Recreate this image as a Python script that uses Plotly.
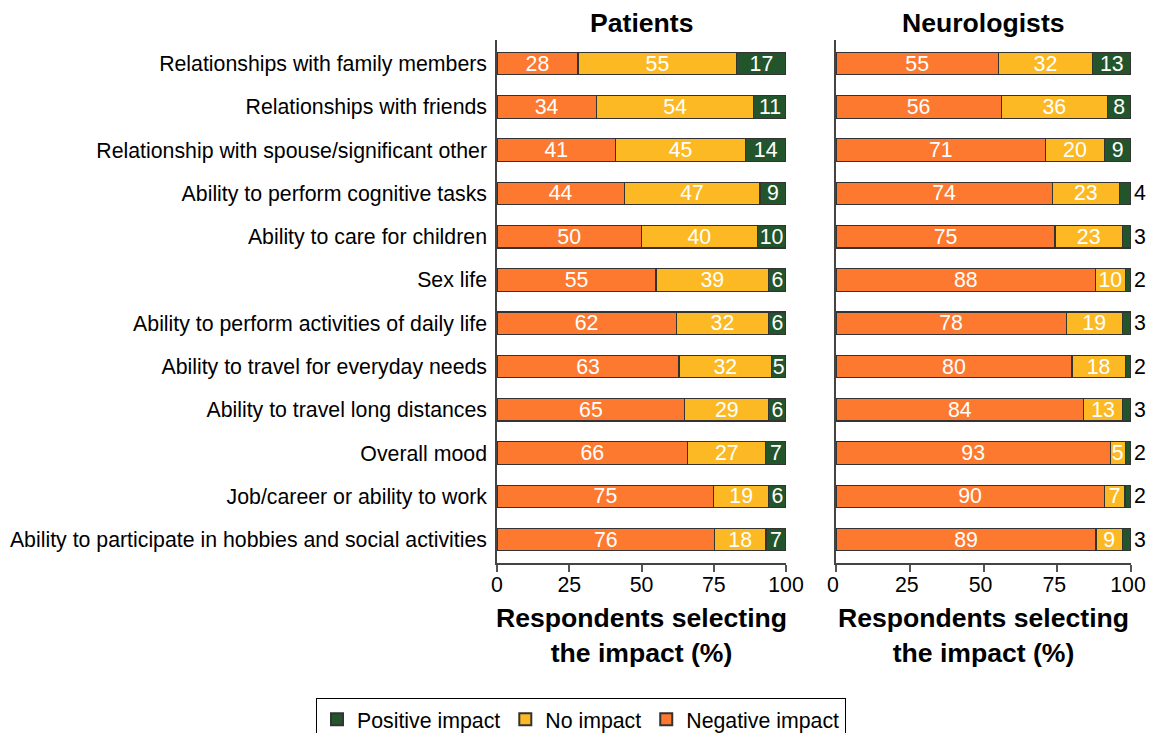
import plotly.graph_objects as go

categories = [
    "Relationships with family members",
    "Relationships with friends",
    "Relationship with spouse/significant other",
    "Ability to perform cognitive tasks",
    "Ability to care for children",
    "Sex life",
    "Ability to perform activities of daily life",
    "Ability to travel for everyday needs",
    "Ability to travel long distances",
    "Overall mood",
    "Job/career or ability to work",
    "Ability to participate in hobbies and social activities",
]

pat_negative = [28, 34, 41, 44, 50, 55, 62, 63, 65, 66, 75, 76]
pat_none = [55, 54, 45, 47, 40, 39, 32, 32, 29, 27, 19, 18]
pat_positive = [17, 11, 14, 9, 10, 6, 6, 5, 6, 7, 6, 7]

neu_negative = [55, 56, 71, 74, 75, 88, 78, 80, 84, 93, 90, 89]
neu_none = [32, 36, 20, 23, 23, 10, 19, 18, 13, 5, 7, 9]
neu_positive = [13, 8, 9, 4, 3, 2, 3, 2, 3, 2, 2, 3]
neu_positive_inside = [True, True, True, False, False, False, False, False, False, False, False, False]

tick_vals = [0, 25, 50, 75, 100]

C_NEG = "#FD7930"
C_NONE = "#FDB924"
C_POS = "#23552D"
FONT = "Liberation Sans, Arial, sans-serif"
FS = 21.3
FT = 26.6

W = 1138.0
# page body offset (8px) compensated in paper coordinates
PAT_X = [489, 778]
NEU_X = [828, 1123]

fig = go.Figure()

def add_bar(vals, name, color, xa, ya, show, positions="inside"):
    fig.add_trace(go.Bar(
        y=categories, x=vals, orientation="h", name=name,
        marker=dict(color=color, line=dict(color="#333333", width=1.2)),
        text=[str(v) for v in vals],
        texttemplate="%{text}", textposition=positions, insidetextanchor="middle",
        textangle=0, constraintext="none", cliponaxis=False,
        insidetextfont=dict(color="white", size=FS, family=FONT),
        outsidetextfont=dict(color="black", size=FS, family=FONT),
        xaxis=xa, yaxis=ya, legendgroup=name, showlegend=show,
        hoverinfo="x+y+name",
    ))

add_bar(pat_negative, "Negative impact", C_NEG, "x", "y", True)
add_bar(pat_none, "No impact", C_NONE, "x", "y", True)
add_bar(pat_positive, "Positive impact", C_POS, "x", "y", True)

add_bar(neu_negative, "Negative impact", C_NEG, "x2", "y2", False)
add_bar(neu_none, "No impact", C_NONE, "x2", "y2", False)
add_bar(neu_positive, "Positive impact", C_POS, "x2", "y2", False,
        positions=["inside" if ins else "outside" for ins in neu_positive_inside])

axis_common = dict(
    range=[0, 100.001], tickvals=tick_vals, ticks="outside", ticklen=7, tickwidth=1.5,
    tickcolor="#555555", showline=True, linecolor="#444444", linewidth=1.5,
    showgrid=False, zeroline=False, tickfont=dict(size=FS, color="black", family=FONT),
    ticklabelstandoff=-5, ticklabeloverflow="allow",
    title=dict(text="<b>Respondents selecting<br>the impact (%)</b>",
               font=dict(size=FT, color="black", family=FONT), standoff=12),
    fixedrange=True, automargin=False,
)

y_range = [11.54, -0.545]

fig.update_layout(
    width=int(W), height=733,
    margin=dict(l=0, r=0, t=32, b=178, autoexpand=False),
    paper_bgcolor="white", plot_bgcolor="white",
    barmode="stack", barnorm="percent", bargap=0.48,
    uniformtext=dict(mode="show", minsize=FS),
    font=dict(family=FONT, color="black"),
    xaxis=dict(domain=[PAT_X[0] / W, PAT_X[1] / W], anchor="y", **axis_common),
    xaxis2=dict(domain=[NEU_X[0] / W, NEU_X[1] / W], anchor="y2", ticklabelshift=-3, **axis_common),
    yaxis=dict(range=y_range, showline=True, linecolor="#444444", linewidth=1.5,
               ticks="", tickfont=dict(size=FS, color="black", family=FONT),
               automargin=False, ticklabelstandoff=4, anchor="x", domain=[0, 1], fixedrange=True),
    yaxis2=dict(range=y_range, showline=True, linecolor="#444444", linewidth=1.5,
                ticks="", showticklabels=False, automargin=False, anchor="x2", domain=[0, 1],
                fixedrange=True),
    legend=dict(orientation="h", x=573 / W, xanchor="center", y=-0.258, yanchor="top",
                traceorder="reversed", bordercolor="black", borderwidth=1,
                font=dict(size=FS, color="black", family=FONT),
                itemsizing="constant"),
    annotations=[
        dict(text="<b>Patients</b>", x=(PAT_X[0] + PAT_X[1]) / 2 / W, y=1, xref="paper", yref="paper",
             xanchor="center", yanchor="bottom", yshift=0, showarrow=False,
             font=dict(size=FT, color="black", family=FONT)),
        dict(text="<b>Neurologists</b>", x=(NEU_X[0] + NEU_X[1]) / 2 / W, y=1, xref="paper", yref="paper",
             xanchor="center", yanchor="bottom", yshift=0, showarrow=False,
             font=dict(size=FT, color="black", family=FONT)),
    ],
)

fig.write_html("out.html")
